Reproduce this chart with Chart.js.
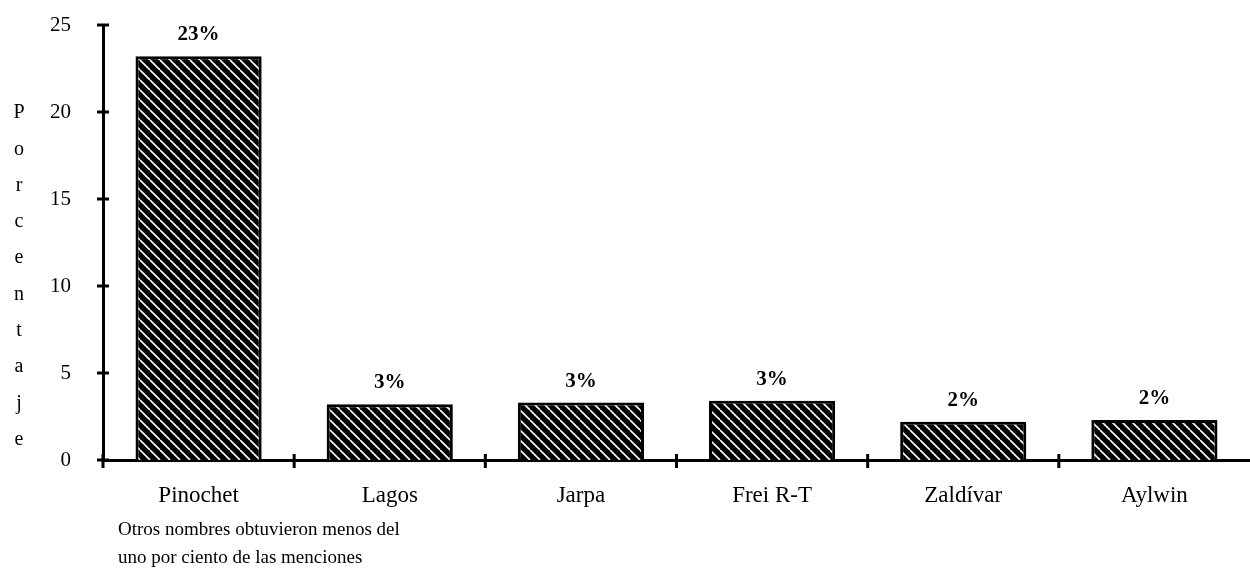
<!DOCTYPE html>
<html>
<head>
<meta charset="utf-8">
<script src="https://cdn.jsdelivr.net/npm/chart.js@4"></script>
<style>
  html, body { margin: 0; padding: 0; background: #fff; }
  #wrap { position: relative; width: 1250px; height: 574px; }
</style>
</head>
<body>
<div id="wrap"><canvas id="myChart" width="1250" height="574"></canvas></div>
<script>
const categories = ['Pinochet', 'Lagos', 'Jarpa', 'Frei R-T', 'Zaldívar', 'Aylwin'];
const values = [23.2, 3.2, 3.3, 3.4, 2.2, 2.3];
const valueLabels = ['23%', '3%', '3%', '3%', '2%', '2%'];
const yTicks = [0, 5, 10, 15, 20, 25];
const axisTitle = 'Porcentaje';
const footnote = ['Otros nombres obtuvieron menos del', 'uno por ciento de las menciones'];

const serif = '"Liberation Serif", "DejaVu Serif", serif';

// hatch: black with thin white diagonal lines
function hatch() {
    const c = document.createElement('canvas');
    c.width = 10; c.height = 10;
    const g = c.getContext('2d');
    g.fillStyle = '#000';
    g.fillRect(0, 0, 10, 10);
    g.strokeStyle = '#fff';
    g.lineWidth = 1.6;
    for (let k = -1; k <= 1; k++) {
        g.beginPath();
        g.moveTo(k * 10, 0);
        g.lineTo(k * 10 + 10, 10);
        g.stroke();
    }
    return g.createPattern(c, 'repeat');
}

const extras = {
    id: 'extras',
    afterDraw(chart) {
        const ctx = chart.ctx;
        const x = chart.scales.x, y = chart.scales.y;
        const area = chart.chartArea;
        ctx.save();
        ctx.strokeStyle = '#000';
        ctx.lineWidth = 3;
        // y ticks crossing the axis
        y.ticks.forEach((t, i) => {
            const py = y.getPixelForTick(i);
            ctx.beginPath();
            ctx.moveTo(area.left - 6, py);
            ctx.lineTo(area.left + 6, py);
            ctx.stroke();
        });
        // x ticks at category boundaries
        for (let i = 0; i < categories.length; i++) {
            const px = i === 0 ? area.left : (x.getPixelForValue(i - 1) + x.getPixelForValue(i)) / 2;
            ctx.beginPath();
            ctx.moveTo(px, area.bottom - 6);
            ctx.lineTo(px, area.bottom + 8);
            ctx.stroke();
        }
        // value labels
        ctx.fillStyle = '#000';
        ctx.font = 'bold 21px ' + serif;
        ctx.textAlign = 'center';
        ctx.textBaseline = 'bottom';
        const meta = chart.getDatasetMeta(0);
        meta.data.forEach((bar, i) => {
            ctx.fillText(valueLabels[i], bar.x, bar.y - 11);
        });
        // vertical letter-stacked title
        ctx.font = '20px ' + serif;
        ctx.textBaseline = 'middle';
        axisTitle.split('').forEach((ch, i) => {
            ctx.fillText(ch, 19, 113 + i * 36.3);
        });
        // footnote
        ctx.textAlign = 'left';
        ctx.font = '19px ' + serif;
        footnote.forEach((line, i) => {
            ctx.fillText(line, 118, 530 + i * 28);
        });
        ctx.restore();
    }
};

const ctx = document.getElementById('myChart');

new Chart(ctx, {
    type: 'bar',
    data: {
        labels: categories,
        datasets: [{
            data: values,
            backgroundColor: hatch(),
            borderColor: '#000',
            borderWidth: 3,
            borderSkipped: 'bottom',
            barPercentage: 0.66,
            categoryPercentage: 1
        }]
    },
    options: {
        responsive: false,
        animation: false,
        layout: { padding: { top: 25, right: 0, left: 0, bottom: 0 } },
        plugins: {
            legend: { display: false },
            tooltip: { enabled: false }
        },
        scales: {
            y: {
                min: 0,
                max: 25,
                afterFit(scale) { scale.width = 103; scale.paddingTop = 0; },
                afterBuildTicks(scale) { scale.ticks = yTicks.map(v => ({ value: v })); },
                grid: { display: false },
                border: { display: true, color: '#000', width: 3 },
                ticks: {
                    color: '#000',
                    padding: 24,
                    font: { family: serif, size: 21 }
                }
            },
            x: {
                afterFit(scale) { scale.height = 114; },
                grid: { display: false },
                border: { display: true, color: '#000', width: 3 },
                ticks: {
                    color: '#000',
                    padding: 14,
                    font: { family: serif, size: 23 }
                }
            }
        }
    },
    plugins: [extras]
});
</script>
</body>
</html>
